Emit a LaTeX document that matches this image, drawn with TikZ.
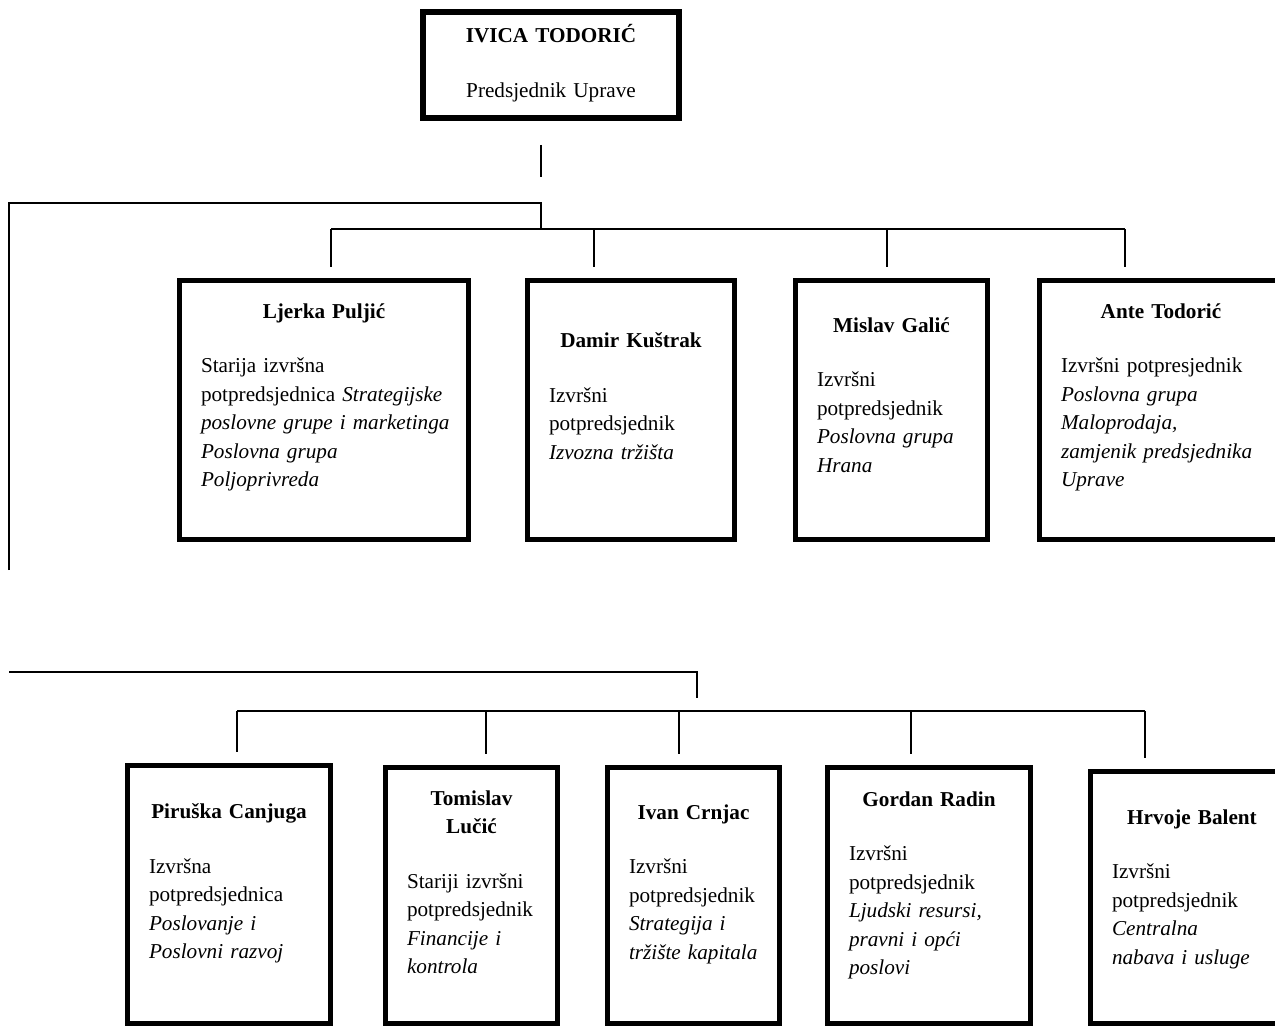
\documentclass[tikz,border=0pt]{standalone}
\usepackage{fontspec}
\setmainfont{Liberation Serif}
\hyphenpenalty=10000
\exhyphenpenalty=10000

\begin{document}
\begin{tikzpicture}[x=0.5pt, y=-0.5pt,
  box/.style={draw, line width=2.5pt, inner sep=0pt},
  wire/.style={line width=0.85pt},
  txt/.style={anchor=north, inner sep=0pt, align=left, font=\fontsize{10.6}{14.25}\selectfont}]
  \useasboundingbox (0,0) rectangle (1275,1027);
  \clip (0,0) rectangle (1275,1027);

  % predsjednik
  \node[box, line width=3pt, minimum width=128pt, minimum height=53pt] (ivica) at (551,65) {};
  \node[txt, anchor=center, align=center, text width=120pt] (ivicatxt) at (551,63)
    {\textbf{IVICA TODORIĆ}\\[13pt]Predsjednik Uprave};

  % prvi red
  \node[box, minimum width=144.5pt, minimum height=129.5pt] (ljerka) at (324,410) {};
  \node[txt, text width=123pt] (ljerkatxt) at (324,303.3)
    {{\centering\textbf{Ljerka Puljić}\par}\vspace{13pt}
     Starija izvršna\\ \mbox{potpredsjednica \textit{Strategijske}}\\ \mbox{\textit{poslovne grupe i marketinga}}\\
     \textit{Poslovna grupa}\\ \textit{Poljoprivreda}};
  \node[box, minimum width=103.5pt, minimum height=129.5pt] (damir) at (631,410) {};
  \node[txt, text width=82pt] (damirtxt) at (631,332.3)
    {{\centering\textbf{Damir Kuštrak}\par}\vspace{13pt}
     Izvršni\\ potpredsjednik\\ \textit{Izvozna tržišta}};
  \node[box, minimum width=96pt, minimum height=129.5pt] (mislav) at (891.5,410) {};
  \node[txt, text width=74.5pt] (mislavtxt) at (891.5,317.3)
    {{\centering\textbf{Mislav Galić}\par}\vspace{13pt}
     Izvršni\\ potpredsjednik\\ \textit{Poslovna grupa}\\ \textit{Hrana}};
  \node[box, minimum width=121.5pt, minimum height=129.5pt] (ante) at (1161,410) {};
  \node[txt, text width=100pt] (antetxt) at (1161,303.3)
    {{\centering\textbf{Ante Todorić}\par}\vspace{13pt}
     Izvršni potpresjednik\\ \textit{Poslovna grupa}\\ \textit{Maloprodaja,}\\
     \mbox{\textit{zamjenik predsjednika}}\\ \textit{Uprave}};

  % drugi red
  \node[box, minimum width=101.5pt, minimum height=129pt] (piruska) at (229,894.5) {};
  \node[txt, text width=80pt] (piruskatxt) at (229,803.3)
    {{\centering\textbf{Piruška Canjuga}\par}\vspace{13pt}
     Izvršna\\ potpredsjednica\\ \textit{Poslovanje i}\\ \mbox{\textit{Poslovni razvoj}}};
  \node[box, minimum width=86pt, minimum height=128pt] (tomislav) at (471.5,895.5) {};
  \node[txt, text width=64.5pt] (tomislavtxt) at (471.5,790.3)
    {{\centering\textbf{Tomislav}\\\textbf{Lučić}\par}\vspace{13pt}
     \mbox{Stariji izvršni}\\ potpredsjednik\\ \textit{Financije i}\\ \textit{kontrola}};
  \node[box, minimum width=86pt, minimum height=128pt] (ivan) at (693.5,895.5) {};
  \node[txt, text width=64.5pt] (ivantxt) at (693.5,804.3)
    {{\centering\textbf{Ivan Crnjac}\par}\vspace{13pt}
     Izvršni\\ potpredsjednik\\ \textit{Strategija i}\\ \mbox{\textit{tržište kapitala}}};
  \node[box, minimum width=101.5pt, minimum height=128pt] (gordan) at (929,895.5) {};
  \node[txt, text width=80pt] (gordantxt) at (929,791.3)
    {{\centering\textbf{Gordan Radin}\par}\vspace{13pt}
     Izvršni\\ potpredsjednik\\ \textit{Ljudski resursi,}\\ \textit{pravni i opći}\\ \textit{poslovi}};
  \node[box, minimum width=101.5pt, minimum height=126pt] (hrvoje) at (1192,897.5) {};
  \node[txt, text width=80pt] (hrvojetxt) at (1192,809.3)
    {{\centering\textbf{Hrvoje Balent}\par}\vspace{13pt}
     Izvršni\\ potpredsjednik\\ \textit{Centralna}\\ \mbox{\textit{nabava i usluge}}};

  % linije
  \coordinate (t0) at (541,145);
  \coordinate (t1) at (541,177);
  \coordinate (up) at (9,570);
  \coordinate (lo) at (9,672);
  \draw[wire] (t0) -- (t1);
  \draw[wire] (up) -- (9,203) -| (541,229);
  \draw[wire] (331,229) -- (1125,229);
  \foreach \x/\n in {331/ljerka,594/damir,887/mislav,1125/ante}
    \draw[wire, shorten >=5.5pt] (\x,229) -- (\x,0 |- \n.north);
  \draw[wire] (lo) -| (697,698);
  \draw[wire] (237,711) -- (1145,711);
  \foreach \x/\n in {237/piruska,486/tomislav,679/ivan,911/gordan,1145/hrvoje}
    \draw[wire, shorten >=5.5pt] (\x,711) -- (\x,0 |- \n.north);
\end{tikzpicture}
\end{document}
